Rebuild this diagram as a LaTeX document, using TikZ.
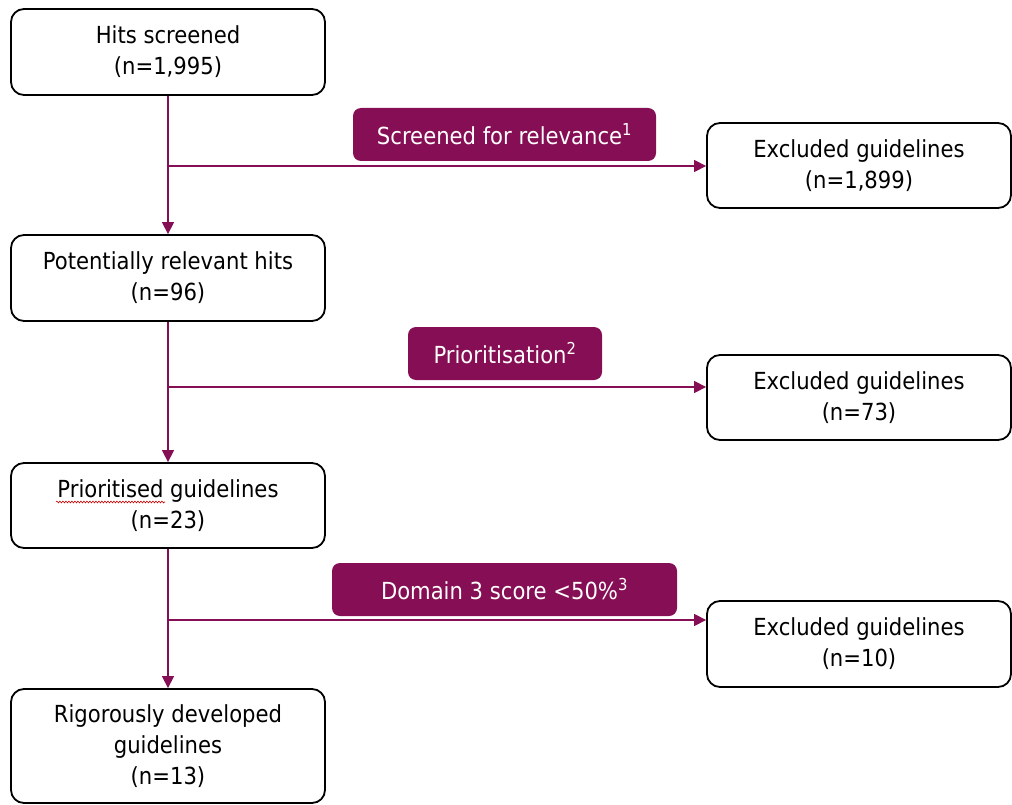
\documentclass[tikz,border=0pt]{standalone}
\usepackage{fontspec}
\setmainfont{DejaVu Sans Condensed}
\usetikzlibrary{arrows.meta,decorations.pathmorphing}
\definecolor{plum}{HTML}{860E54}
\begin{document}
\begin{tikzpicture}[x=1pt,y=-1pt,
  every node/.style={font=\fontsize{23.5}{31}\selectfont},
  stage/.style={draw=black, line width=1.8pt, rounded corners=13pt, fill=white,
    minimum width=#1, align=center, inner sep=0pt},
  stage/.default=314pt,
  tag/.style={fill=plum, text=white, rounded corners=8pt, minimum height=53pt,
    align=center, inner sep=0pt},
  conn/.style={draw=plum, line width=1.3pt, -{Triangle[length=12pt,width=12pt]}}
]
\useasboundingbox (0,0) rectangle (1012,805);
% main column
\node[stage, minimum height=86pt] (b1) at (168,52) {Hits screened\\(n=1,995)};
\node[stage, minimum height=86pt] (b2) at (168,278) {Potentially relevant hits\\(n=96)};
\node[stage, minimum height=85pt] (b3) at (168,505.5) {Prioritised guidelines\\(n=23)};
\node[stage, minimum height=114pt] (b4) at (168,746) {Rigorously developed\\guidelines\\(n=13)};
% excluded column
\node[stage=304pt, minimum height=85pt] (e1) at (859,165.5) {Excluded guidelines\\(n=1,899)};
\node[stage=304pt, minimum height=85pt] (e2) at (859,397.5) {Excluded guidelines\\(n=73)};
\node[stage=304pt, minimum height=86pt] (e3) at (859,644) {Excluded guidelines\\(n=10)};
% tags
\node[tag, minimum width=303pt] (t1) at (504.5,134.5) {Screened for relevance\textsuperscript{1}};
\node[tag, minimum width=194pt] (t2) at (505,353.5) {Prioritisation\textsuperscript{2}};
\node[tag, minimum width=345pt] (t3) at (504.5,589.5) {Domain 3 score <50\%\textsuperscript{3}};
% junctions
\coordinate (j1) at (169,166);
\coordinate (j2) at (169,387);
\coordinate (j3) at (169,620);
% connectors
\draw[conn] (b1.south) -- (b2.north);
\draw[conn] (b2.south) -- (b3.north);
\draw[conn] (b3.south) -- (b4.north);
\draw[conn] (j1) -- (j1 -| e1.west);
\draw[conn] (j2) -- (j2 -| e2.west);
\draw[conn] (j3) -- (j3 -| e3.west);
% spell-check underline
\coordinate (s1) at (56,502);
\coordinate (s2) at (165,502);
\draw[red!80!black, line width=0.6pt, decorate,
  decoration={snake, amplitude=0.9pt, segment length=3pt}] (s1) -- (s2);
\end{tikzpicture}
\end{document}
